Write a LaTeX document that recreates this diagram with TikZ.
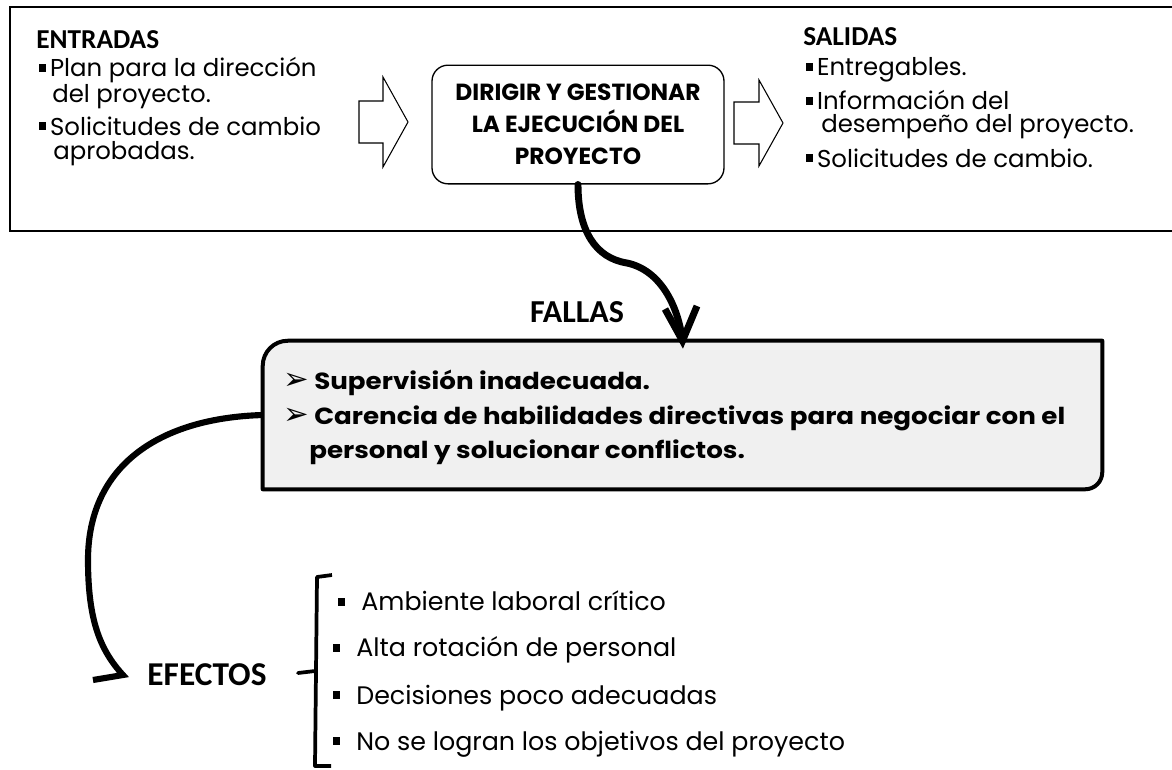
\documentclass[tikz,border=0pt]{standalone}
\usepackage{fontspec}
\setmainfont{Poppins}
\newfontfamily\calib{Carlito}
\newfontfamily\dejavu{DejaVu Sans}
\newfontfamily\widepop[FakeStretch=1.12]{Poppins}
\newcommand{\sqbul}{\rule[0.2em]{0.28em}{0.32em}}
\newcommand{\arrbul}{{\dejavu\fontsize{23}{23}\selectfont\char"27A2}}
\begin{document}
\begin{tikzpicture}[x=0.75pt,y=-0.75pt,
  lst/.style={anchor=west,inner sep=0pt,font=\fontsize{18.3}{20}\selectfont},
  eff/.style={anchor=west,inner sep=0pt,font=\fontsize{19}{20}\selectfont},
  head/.style={anchor=west,inner sep=0pt,font=\calib\bfseries\fontsize{20.5}{22}\selectfont},
  bighead/.style={anchor=center,inner sep=0pt,font=\calib\bfseries\fontsize{24}{26}\selectfont},
  failtext/.style={anchor=west,inner sep=0pt,font=\widepop\bfseries\fontsize{17.5}{20}\selectfont},
  blockarrow/.style={draw,line width=0.8pt,fill=white,line join=miter},
  procbox/.style={draw,line width=1pt,rounded corners=12pt,minimum width=219pt,minimum height=89pt,
    align=center,font=\bfseries\fontsize{17.5}{24}\selectfont},
  grayshape/.style={draw,line width=3pt,fill=black!6,line join=round},
  bendy/.style={line width=5.2pt,line cap=round,line join=round},
]
\useasboundingbox (0,0) rectangle (1172,769);

% top frame (open on the right)
\draw[line width=1.2pt] (1180,7) -- (10,7) -- (10,231) -- (1180,231);

% inputs
\node[head] (ent) at (36,40) {ENTRADAS};
\node[lst] (e1) at (39,70) {\sqbul\hspace{3pt}Plan para la dirección};
\node[lst] (e1b) at (52,97) {del proyecto.};
\node[lst] (e2) at (39,126) {\sqbul\hspace{3pt}Solicitudes de cambio};
\node[lst] (e2b) at (53,154) {aprobadas.};

% block arrows
\draw[blockarrow] (359,101) -- (383,101) -- (383,77) -- (408,122) -- (383,167) -- (383,143) -- (359,143) -- cycle;
\draw[blockarrow] (734,102) -- (759,102) -- (759,80) -- (783,123) -- (759,166) -- (759,144) -- (734,144) -- cycle;

% process box
\node[procbox] (proc) at (578,124.5) {DIRIGIR Y GESTIONAR\\LA EJECUCIÓN DEL\\PROYECTO};

% outputs
\node[head] (sal) at (803,37) {SALIDAS};
\node[lst] (s1) at (806,70) {\sqbul\hspace{3pt}Entregables.};
\node[lst] (s2) at (806,100) {\sqbul\hspace{3pt}Información del};
\node[lst] (s2b) at (821,127) {desempeño del proyecto.};
\node[lst] (s3) at (806,158) {\sqbul\hspace{3pt}Solicitudes de cambio.};

% failures box
\node[minimum width=629.25pt,minimum height=111pt,inner sep=0pt] (fb) at (682.5,415) {};
\draw[grayshape] (fb.south west) -- ([yshift=-18.75pt]fb.north west)
  arc[start angle=180,end angle=270,radius=25] -- (fb.north east)
  -- ([yshift=12.75pt]fb.south east) arc[start angle=0,end angle=90,radius=17] -- cycle;
\node[failtext] (f1) at (283,383) {\arrbul\hspace{4pt}Supervisión inadecuada.};
\node[failtext] (f2) at (283,418) {\arrbul\hspace{4pt}Carencia de habilidades directivas para negociar con el};
\node[failtext] (f2b) at (309,452) {personal y solucionar conflictos.};

\node[bighead] (fallas) at (577,312) {FALLAS};

% curved arrow from process to failures
\draw[bendy] (proc.south) .. controls (578,230) and (595,258) .. (627,263)
  .. controls (660,270) and (678,305) .. (fb.north);
\draw[bendy,line cap=butt,line join=miter] (665,309) -- (fb.north) -- (697,306);

% effects
\node[bighead,font=\calib\bfseries\fontsize{25}{28}\selectfont] (efectos) at (207,675) {EFECTOS};
\coordinate (effin) at (123,675);
\draw[line width=4.6pt,line join=miter,line cap=butt] (fb.west) .. controls (160,418) and (88,465) .. (88,560)
  .. controls (88,620) and (100,650) .. (effin) -- (93,680);

% bracket
\draw[line width=2.8pt,line join=round] (332,575) -- (317,577) -- (315,766) -- (331,766);
\draw[line width=2.8pt,line cap=round] (315,671) -- (298,673);

\node[eff] (x1) at (338,601) {\sqbul\hspace{12pt}Ambiente laboral crítico};
\node[eff] (x2) at (333,650) {\sqbul\hspace{12pt}Alta rotación de personal};
\node[eff] (x3) at (333,698) {\sqbul\hspace{12pt}Decisiones poco adecuadas};
\node[eff] (x4) at (333,744) {\sqbul\hspace{12pt}No se logran los objetivos del proyecto};
\end{tikzpicture}
\end{document}
